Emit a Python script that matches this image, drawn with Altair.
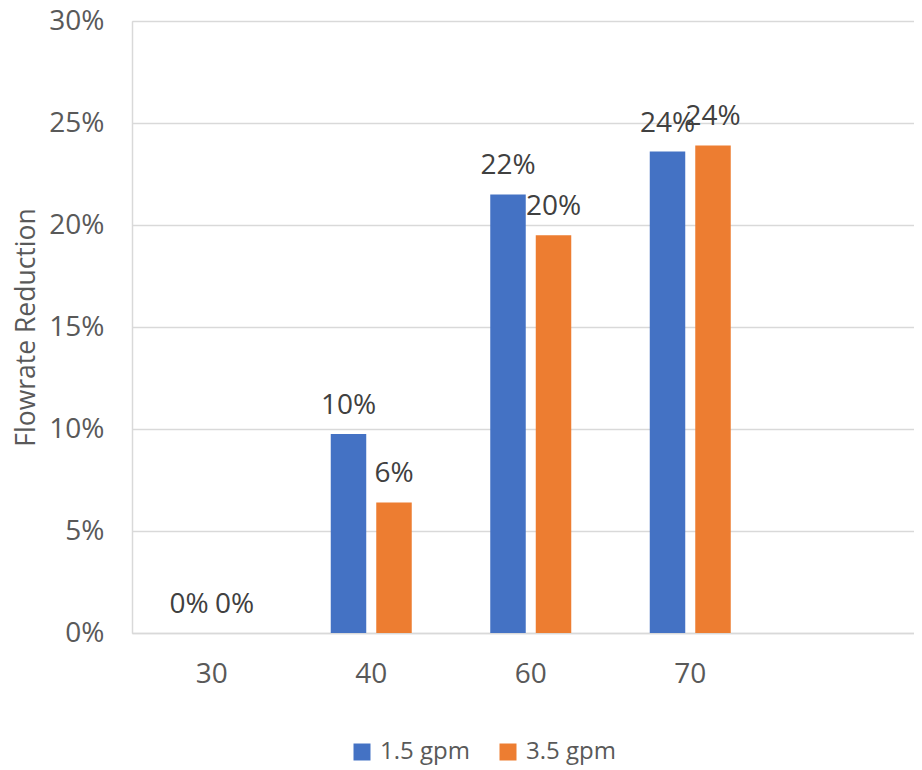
import altair as alt
import pandas as pd

categories = ["30", "40", "60", "70"]
series = ["1.5 gpm", "3.5 gpm"]
gpm15 = [0.0, 0.0975, 0.215, 0.236]
gpm35 = [0.0, 0.064, 0.195, 0.239]
labels15 = ["0%", "10%", "22%", "24%"]
labels35 = ["0%", "6%", "20%", "24%"]
y_ticks = [0, 0.05, 0.10, 0.15, 0.20, 0.25, 0.30]
colors = ["#4472C4", "#ED7D31"]

rows = []
for i, c in enumerate(categories):
    rows.append({"cat": c, "series": series[0], "value": gpm15[i], "label": labels15[i]})
    rows.append({"cat": c, "series": series[1], "value": gpm35[i], "label": labels35[i]})
df = pd.DataFrame(rows)

FONT = "Open Sans"
FS = 28

x_enc = alt.X(
    "cat:N",
    sort=categories,
    scale=alt.Scale(paddingInner=0, paddingOuter=0.4514, align=0),
    axis=alt.Axis(
        title=None, labelAngle=0, labelFontSize=FS, labelColor="#595959",
        labelFont=FONT, ticks=False, domain=True, domainColor="#D9D9D9",
        domainWidth=1.5, labelPadding=27, grid=False,
    ),
)
xoff = alt.XOffset(
    "series:N", sort=series,
    scale=alt.Scale(paddingInner=0.22, paddingOuter=0.8626),
)
y_enc = alt.Y(
    "value:Q",
    scale=alt.Scale(domain=[0, 0.30], nice=False),
    axis=alt.Axis(
        title="Flowrate Reduction", values=y_ticks, format=".0%",
        labelFontSize=FS, labelColor="#595959", labelFont=FONT,
        labelPadding=28, ticks=False, domain=True, domainColor="#D9D9D9",
        domainWidth=1.5, gridColor="#D9D9D9", gridWidth=1.5,
        titleFontSize=26.5, titleFont=FONT, titleColor="#595959",
        titleFontWeight="normal", titleAngle=-90, titleX=-106, titleY=306,
        titleAlign="center", titleBaseline="middle",
    ),
)

bars = alt.Chart(df).mark_bar().encode(
    x=x_enc,
    xOffset=xoff,
    y=y_enc,
    color=alt.Color(
        "series:N", sort=series,
        scale=alt.Scale(domain=series, range=colors),
        legend=alt.Legend(
            title=None, orient="none", direction="horizontal",
            legendX=218, legendY=719, symbolType="square", symbolSize=289,
            symbolStrokeWidth=0, labelFontSize=24, labelFont=FONT,
            labelColor="#595959", labelOffset=6, columnPadding=26, padding=0,
        ),
    ),
)

text = alt.Chart(df).mark_text(
    fontSize=FS, font=FONT, color="#404040", baseline="alphabetic", dy=-20,
).encode(
    x=alt.X("cat:N", sort=categories),
    xOffset=alt.XOffset("series:N", sort=series),
    y="value:Q",
    text="label:N",
)

chart = (bars + text).properties(
    width=782, height=612,
    autosize=alt.AutoSizeParams(type="none"),
    padding={"left": 124, "top": 13, "right": 0, "bottom": 134},
).configure_view(stroke=None).configure(background="white")

chart.save("out.html", embed_options={"renderer": "svg", "actions": False})
